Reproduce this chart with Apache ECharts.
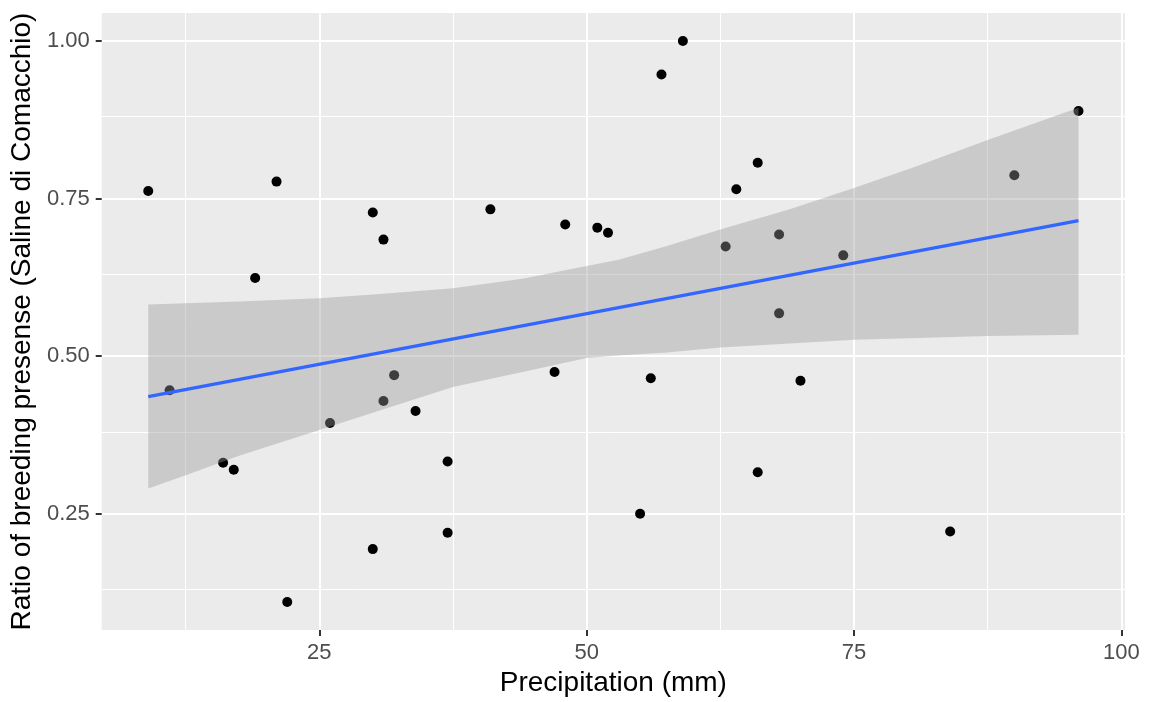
<!DOCTYPE html>
<html>
<head>
<meta charset="utf-8">
<script src="https://cdn.jsdelivr.net/npm/echarts@6/dist/echarts.min.js"></script>
<style>
  html, body { margin: 0; padding: 0; background: #fff; }
  #chart { width: 1154px; height: 702px; }
</style>
</head>
<body>
<div id="chart"></div>
<script>
// observations
const precip = [9, 11, 16, 17, 19, 21, 22, 26, 30, 30, 31, 31, 32, 34, 37, 37, 41, 47,
  48, 51, 52, 55, 56, 57, 59, 63, 64, 66, 66, 68, 68, 70, 74, 84, 90, 96]
const ratio = [0.762, 0.446, 0.331, 0.320, 0.624, 0.777, 0.110, 0.394, 0.728, 0.194,
  0.685, 0.429, 0.470, 0.413, 0.333, 0.220, 0.733, 0.475, 0.709, 0.704, 0.696, 0.250,
  0.465, 0.947, 1.000, 0.674, 0.765, 0.807, 0.316, 0.693, 0.568, 0.461, 0.660, 0.222,
  0.787, 0.889]

// fitted line and confidence band
const fitX = [9, 96]
const fitY = [0.436, 0.715]
const bandX = [9, 12.5, 17.5, 25, 31, 37.5, 44, 50, 53, 57.5, 62.5, 69, 75, 81, 87.5, 96]
const bandUpper = [0.582, 0.584, 0.587, 0.592, 0.599, 0.608, 0.623, 0.643, 0.653, 0.675, 0.701, 0.733, 0.767, 0.802, 0.843, 0.894]
const bandLower = [0.290, 0.311, 0.342, 0.383, 0.416, 0.451, 0.475, 0.497, 0.501, 0.506, 0.514, 0.520, 0.526, 0.529, 0.532, 0.534]

// axes
const xTicks = [25, 50, 75, 100]
const xMinor = [12.5, 37.5, 62.5, 87.5]
const yTicks = [0.25, 0.5, 0.75, 1.0]
const yMinor = [0.125, 0.375, 0.625, 0.875]
const xRange = [4.65, 100.35]
const yRange = [0.0655, 1.0445]

const chart = echarts.init(document.getElementById('chart'))

const font = '"Liberation Sans", Arial, sans-serif'

function gridLines(values, key, width) {
  return values.map(v => ({ [key]: v, lineStyle: { color: '#ffffff', width: width, type: 'solid' } }))
}

chart.setOption({
  animation: false,
  backgroundColor: '#ffffff',
  grid: {
    left: 101,
    right: 29,
    top: 13,
    bottom: 70,
    show: true,
    backgroundColor: '#EBEBEB',
    borderWidth: 0
  },
  xAxis: {
    type: 'value',
    min: xRange[0],
    max: xRange[1],
    name: 'Precipitation (mm)',
    nameLocation: 'middle',
    nameGap: 38,
    nameTextStyle: { color: '#000', fontSize: 28, fontFamily: font },
    axisLine: { show: false },
    splitLine: { show: false },
    axisTick: {
      show: true,
      customValues: xTicks,
      length: 6,
      lineStyle: { color: '#333333', width: 2 }
    },
    axisLabel: {
      customValues: xTicks,
      margin: 12,
      color: '#4D4D4D',
      fontSize: 22,
      fontFamily: font,
      formatter: v => String(v)
    }
  },
  yAxis: {
    type: 'value',
    min: yRange[0],
    max: yRange[1],
    name: 'Ratio of breeding presense (Saline di Comacchio)',
    nameLocation: 'middle',
    nameGap: 64,
    nameTextStyle: { color: '#000', fontSize: 28, fontFamily: font },
    axisLine: { show: false },
    splitLine: { show: false },
    axisTick: {
      show: true,
      customValues: yTicks,
      length: 6,
      lineStyle: { color: '#333333', width: 2 }
    },
    axisLabel: {
      customValues: yTicks,
      margin: 12,
      color: '#4D4D4D',
      fontSize: 22,
      fontFamily: font,
      formatter: v => v.toFixed(2)
    }
  },
  series: [
    {
      // panel grid lines, kept under everything else
      type: 'line',
      data: [],
      z: 0,
      silent: true,
      markLine: {
        z: 0,
        silent: true,
        symbol: 'none',
        label: { show: false },
        animation: false,
        data: [
          ...gridLines(xMinor, 'xAxis', 1),
          ...gridLines(yMinor, 'yAxis', 1),
          ...gridLines(xTicks, 'xAxis', 2),
          ...gridLines(yTicks, 'yAxis', 2)
        ]
      }
    },
    {
      type: 'scatter',
      data: precip.map((x, i) => [x, ratio[i]]),
      symbol: 'circle',
      symbolSize: 10,
      itemStyle: { color: '#000000', opacity: 1 },
      z: 2
    },
    {
      // confidence band drawn over the points
      type: 'custom',
      data: [0],
      z: 3,
      silent: true,
      renderItem: (params, api) => {
        const pts = []
        bandX.forEach((x, i) => pts.push(api.coord([x, bandUpper[i]])))
        for (let i = bandX.length - 1; i >= 0; i--) pts.push(api.coord([bandX[i], bandLower[i]]))
        return {
          type: 'polygon',
          shape: { points: pts },
          style: { fill: 'rgba(153,153,153,0.4)' }
        }
      }
    },
    {
      type: 'line',
      data: fitX.map((x, i) => [x, fitY[i]]),
      showSymbol: false,
      lineStyle: { color: '#3366FF', width: 3.3 },
      z: 4
    }
  ]
})
</script>
</body>
</html>
